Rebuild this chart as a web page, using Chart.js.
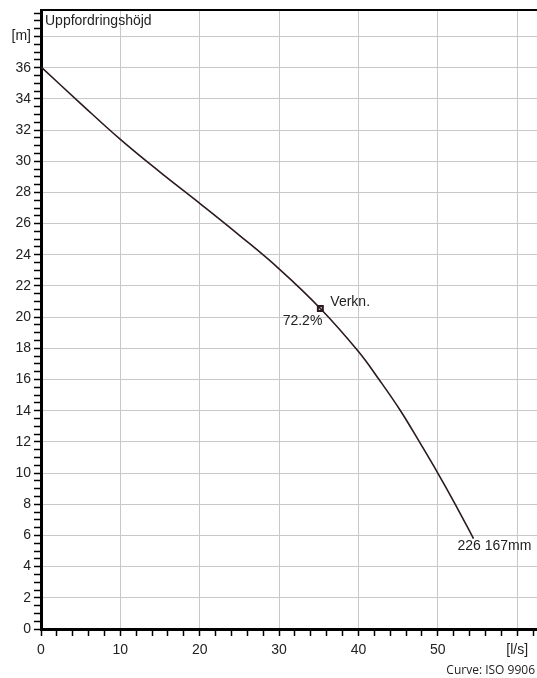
<!DOCTYPE html>
<html>
<head>
<meta charset="utf-8">
<script src="https://cdn.jsdelivr.net/npm/chart.js@4"></script>
<style>
  body { margin: 0; background: #fff; }
  #wrap { position: relative; width: 537px; height: 678px; }
  #note { position: absolute; right: 2px; top: 661px; font: 12px "Open Sans", sans-serif; color: #222; }
</style>
</head>
<body>
<div id="wrap">
  <canvas id="pumpChart"></canvas>
  <div id="note">Curve: ISO 9906</div>
</div>
<script>
// pump curve
const flow = [0, 5, 10, 15, 20, 25, 30, 35.2, 40, 42.6, 45.3, 47.8, 50, 52.2, 54.5];
const head = [36.05, 33.7, 31.4, 29.3, 27.3, 25.25, 23.1, 20.56, 17.8, 16, 14, 11.9, 10, 8, 5.8];
const dutyPoint = { x: 35.2, y: 20.56 };
const xLabels = { 0: '0', 10: '10', 20: '20', 30: '30', 40: '40', 50: '50', 60: '[l/s]' };
const yLabelTop = { 38: '[m]' };

const font = { family: '"Liberation Sans", Arial, sans-serif', size: 14 };
const isMult = (v, n) => Math.abs(v - Math.round(v / n) * n) < 1e-6;

const labelsPlugin = {
    id: 'labels',
    afterDatasetsDraw(chart) {
        const c = chart.ctx;
        const xs = chart.scales.x, ys = chart.scales.y;
        c.save();
        c.fillStyle = '#222';
        c.font = '14px "Liberation Sans", Arial, sans-serif';
        c.textBaseline = 'middle';
        c.textAlign = 'left';
        c.fillText('Uppfordringshöjd', chart.chartArea.left + 4, chart.chartArea.top + 11);

        const px = xs.getPixelForValue(dutyPoint.x), py = ys.getPixelForValue(dutyPoint.y);
        c.fillText('Verkn.', px + 10, py - 6);
        c.textAlign = 'right';
        c.fillText('72.2%', px + 2, py + 13);

        const ex = xs.getPixelForValue(flow[flow.length - 1]), ey = ys.getPixelForValue(head[head.length - 1]);
        c.textAlign = 'left';
        c.fillText('226 167mm', ex - 16, ey + 8);
        c.restore();
    }
};

const ctx = document.getElementById('pumpChart').getContext('2d');
new Chart(ctx, {
    type: 'scatter',
    data: {
        datasets: [{
            data: flow.map((x, i) => ({ x: x, y: head[i] })),
            showLine: true,
            borderColor: '#2b1a1f',
            borderWidth: 1.6,
            pointRadius: 0,
            tension: 0.4
        }, {
            data: [dutyPoint],
            pointStyle: 'rect',
            pointRadius: 3.5,
            borderWidth: 2,
            borderColor: '#2b1a1f',
            backgroundColor: '#d8c8c8'
        }]
    },
    options: {
        responsive: true,
        maintainAspectRatio: false,
        animation: false,
        layout: { autoPadding: false, padding: { top: 10, right: 0, left: 0, bottom: 0 } },
        plugins: { legend: { display: false }, tooltip: { enabled: false } },
        scales: {
            x: {
                type: 'linear',
                min: 0,
                max: 62.5,
                afterFit: s => { s.height = 49; s.paddingLeft = 0; s.paddingRight = 0; },
                ticks: {
                    stepSize: 2,
                    autoSkip: false,
                    includeBounds: false,
                    maxRotation: 0,
                    padding: 6,
                    color: '#222',
                    font: font,
                    callback: v => xLabels[v] !== undefined ? xLabels[v] : ''
                },
                grid: {
                    color: c => isMult(c.tick.value, 10) ? '#c8c8c8' : 'rgba(0,0,0,0)',
                    tickColor: '#000',
                    tickLength: 7,
                    tickWidth: 1.5
                },
                border: { color: '#000', width: 3 }
            },
            xTop: {
                type: 'linear',
                position: 'top',
                min: 0,
                max: 62.5,
                afterFit: s => { s.height = 0; s.paddingLeft = 0; s.paddingRight = 0; },
                ticks: { display: false },
                grid: { drawOnChartArea: false, drawTicks: false },
                border: { color: '#000', width: 2 }
            },
            y: {
                min: 0,
                max: 39.7,
                afterFit: s => { s.width = 41; s.paddingTop = 0; s.paddingBottom = 0; },
                ticks: {
                    stepSize: 0.5,
                    autoSkip: false,
                    includeBounds: false,
                    padding: 3,
                    color: '#222',
                    font: font,
                    callback: v => {
                        if (yLabelTop[v]) return yLabelTop[v];
                        return isMult(v, 2) ? String(v) : '';
                    }
                },
                grid: {
                    color: c => isMult(c.tick.value, 2) ? '#c8c8c8' : 'rgba(0,0,0,0)',
                    tickColor: '#000',
                    tickLength: 7,
                    tickWidth: 1.5
                },
                border: { color: '#000', width: 3 }
            }
        }
    },
    plugins: [labelsPlugin]
});
</script>
</body>
</html>
